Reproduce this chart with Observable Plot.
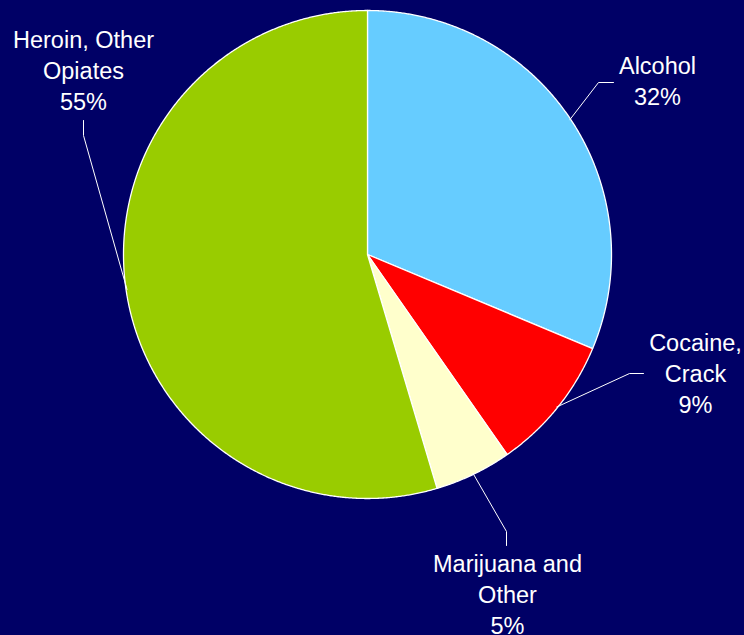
<!DOCTYPE html>
<html>
<head>
<meta charset="utf-8">
<script src="https://cdn.jsdelivr.net/npm/d3@7"></script>
<script src="https://cdn.jsdelivr.net/npm/@observablehq/plot@0.6"></script>
<style>
  html, body { margin: 0; padding: 0; background: #000066; overflow: hidden; }
  #chart { width: 744px; height: 635px; }
</style>
</head>
<body>
<div id="chart"></div>
<script>
// ---- data ----
const categories = ["Alcohol", "Cocaine, Crack", "Marijuana and Other", "Heroin, Other Opiates"];
const values = [31.3, 9.0, 5.1, 54.6];              // slice shares (%), measured from slice angles
const labelText = ["Alcohol\n32%", "Cocaine,\nCrack\n9%", "Marijuana and\nOther\n5%", "Heroin, Other\nOpiates\n55%"];
const colors = ["#66CCFF", "#FF0000", "#FFFFCC", "#99CC00"];

// ---- layout ----
const W = 744, H = 635;
const CX = 367, CY = 254, R = 244;
const toX = px => px - CX, toY = py => CY - py;
// label layout (pixels): elbow points of the leader lines and label anchors
const leaderElbows = [
  [[598, 82], [613, 82]],
  [[629, 373], [643, 373]],
  [[506, 531], [506, 545]],
  [[83, 135], [83, 120]]
];
const labelAnchors = [[657, 104], [695, 412], [507, 633], [83, 109]];

const pie = d3.pie().sort(null).startAngle(0).endAngle(2 * Math.PI)(values);

const polar = (a, r) => ({x: r * Math.sin(a), y: r * Math.cos(a)});

const slices = pie.map((p, i) => {
  const pts = [{x: 0, y: 0}];
  const n = Math.max(8, Math.ceil((p.endAngle - p.startAngle) / 0.005));
  for (let k = 0; k <= n; k++) {
    const a = p.startAngle + (p.endAngle - p.startAngle) * k / n;
    pts.push(polar(a, R));
  }
  return {name: categories[i], color: colors[i], pts};
});

const leaders = pie.map((p, i) => {
  const mid = (p.startAngle + p.endAngle) / 2;
  const start = polar(mid, R - 1);
  return [start, ...leaderElbows[i].map(([px, py]) => ({x: toX(px), y: toY(py)}))];
});

const labels = labelText.map((t, i) => ({text: t, x: toX(labelAnchors[i][0]), y: toY(labelAnchors[i][1])}));

const chart = Plot.plot({
  width: W,
  height: H,
  margin: 0,
  style: {background: "#000066", fontFamily: "'Liberation Sans', Arial, sans-serif"},
  x: {domain: [toX(0), toX(W)], range: [0, W], axis: null},
  y: {domain: [toY(H), toY(0)], range: [H, 0], axis: null},
  marks: [
    ...slices.map(s => Plot.line(s.pts, {x: "x", y: "y", curve: "linear-closed", fill: s.color, stroke: "white", strokeWidth: 1.3, strokeLinejoin: "round"})),
    ...leaders.map(l => Plot.line(l, {x: "x", y: "y", stroke: "white", strokeWidth: 1})),
    Plot.text(labels, {x: "x", y: "y", text: "text", fill: "white", fontSize: 23.5, lineAnchor: "bottom", lineHeight: 1.3, textAnchor: "middle"})
  ]
});
document.getElementById("chart").appendChild(chart);
</script>
</body>
</html>
